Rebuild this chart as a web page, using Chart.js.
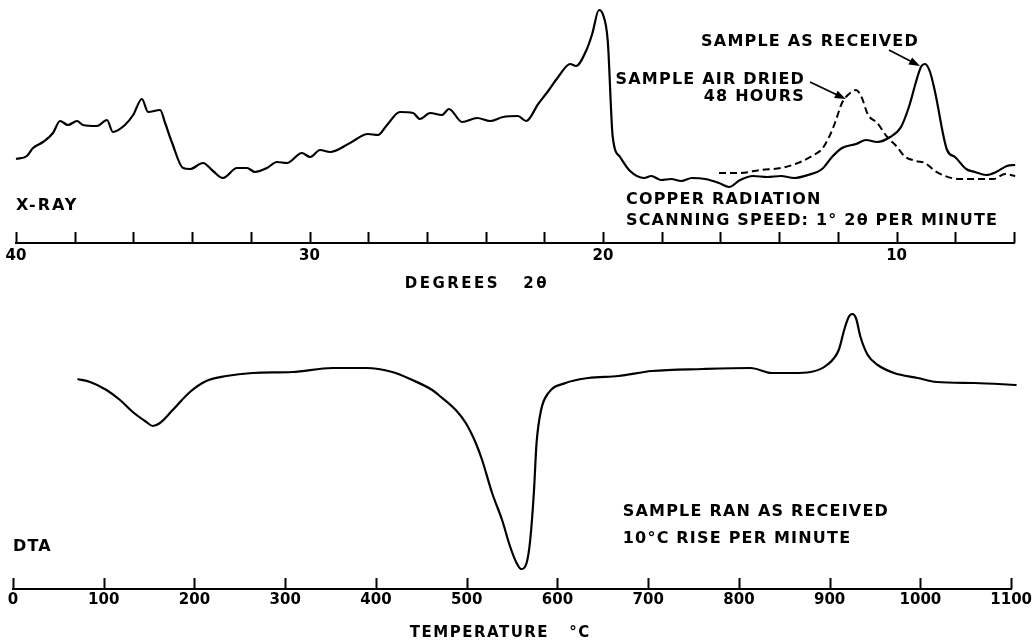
<!DOCTYPE html>
<html>
<head>
<meta charset="utf-8">
<title>X-ray and DTA</title>
<script src="https://cdn.jsdelivr.net/npm/chart.js@4.4.0/dist/chart.umd.min.js"></script>
<style>
  html, body { margin: 0; padding: 0; background: #fff; }
  #wrap { position: relative; width: 1034px; height: 644px; }
  canvas { position: absolute; left: 0; }
  #xray-chart { top: 0; }
  #dta-chart { top: 300px; }
</style>
</head>
<body>
<div id="wrap">
  <canvas id="xray-chart" width="1034" height="300"></canvas>
  <canvas id="dta-chart" width="1034" height="344"></canvas>
</div>
<script>
/* ----------------------------
   DATA
   ---------------------------- */

// X-ray trace, sample as received (degrees 2-theta, relative counts)
var receivedDeg = [40.0, 39.63, 39.42, 39.08, 38.74, 38.50, 38.23, 37.92, 37.72, 37.24,
  36.90, 36.70, 36.29, 36.01, 35.71, 35.50, 35.09, 34.92, 34.68, 34.31,
  34.07, 33.63, 33.29, 32.95, 32.47, 32.13, 31.86, 31.45, 31.11, 30.77,
  30.26, 29.98, 29.64, 29.30, 28.62, 28.01, 27.67, 27.36, 26.92, 26.47,
  26.24, 25.89, 25.49, 25.25, 24.80, 24.29, 23.85, 23.41, 22.90, 22.62,
  22.21, 21.87, 21.53, 21.12, 20.92, 20.58, 20.37, 20.14, 20.01, 19.84,
  19.67, 19.42, 19.08, 18.60, 18.36, 18.02, 17.68, 17.34, 16.97, 16.52,
  16.05, 15.71, 15.33, 14.89, 14.41, 13.94, 13.49, 13.02, 12.54, 12.20,
  11.86, 11.38, 11.04, 10.66, 10.22, 9.85, 9.57, 9.34, 9.17, 9.03,
  8.86, 8.69, 8.28, 8.01, 7.63, 7.33, 6.95, 6.61, 6.24, 5.96];
var receivedCounts = [84, 87, 95, 101, 110, 122, 118, 122, 118, 117,
  123, 111, 118, 128, 144, 131, 133, 120, 100, 75,
  74, 80, 72, 65, 75, 75, 71, 75, 81, 80,
  90, 86, 93, 91, 100, 109, 108, 118, 131, 130,
  124, 130, 128, 134, 121, 125, 122, 126, 127, 122,
  139, 152, 166, 179, 177, 192, 209, 233, 229, 202,
  106, 86, 72, 65, 67, 63, 64, 62, 65, 64,
  60, 56, 63, 67, 66, 67, 65, 68, 74, 86,
  95, 99, 103, 101, 106, 116, 137, 161, 176, 179,
  171, 151, 93, 86, 74, 71, 68, 71, 77, 78];

// X-ray trace, sample air dried 48 hours
var driedDeg = [16.05, 15.33, 14.65, 13.94, 13.36, 12.88, 12.54, 12.30, 12.10, 11.86,
  11.62, 11.38, 11.21, 10.97, 10.66, 10.32, 9.98, 9.74, 9.34, 9.03,
  8.69, 8.35, 7.87, 7.19, 6.71, 6.30, 5.96];
var driedCounts = [70, 70, 73, 75, 80, 87, 94, 106, 120, 140,
  149, 153, 147, 128, 120, 106, 96, 87, 82, 80,
  72, 67, 64, 64, 64, 69, 67];

// DTA trace (temperature in deg C, relative deflection)
var dtaTemp = [71, 85, 103, 118, 132, 147, 154, 162, 176, 195,
  213, 235, 264, 308, 352, 389, 418, 440, 462, 469,
  488, 499, 510, 517, 528, 539, 548, 555, 560, 566,
  570, 574, 577, 582, 590, 609, 634, 667, 704, 760,
  813, 836, 860, 879, 897, 910, 916, 921, 925, 929,
  934, 942, 953, 971, 997, 1018, 1060, 1106];
var dtaDelta = [210, 207, 199, 189, 177, 167, 163, 166, 179, 197,
  208, 213, 216, 217, 221, 221, 217, 209, 199, 194,
  179, 166, 146, 129, 96, 69, 42, 26, 20, 26,
  49, 96, 146, 179, 196, 206, 211, 213, 218, 220,
  221, 216, 216, 217, 224, 239, 259, 272, 275, 271,
  252, 234, 224, 216, 211, 207, 206, 204];

// axis tick labels
var xrayLabelled = [40, 30, 20, 10];
var dtaTickStep = 100;

/* ----------------------------
   HELPERS
   ---------------------------- */
function toPoints(xs, ys) {
  return xs.map(function (x, i) { return { x: x, y: ys[i] }; });
}

var FONT = '"DejaVu Sans", "Liberation Sans", sans-serif';

// Draws the upward tick marks, the lettering and the arrows
var paperMarks = {
  id: "paperMarks",
  afterDraw: function (chart, args, opts) {
    var ctx = chart.ctx;
    var xs = chart.scales.x;
    var ys = chart.scales.y;
    var axisY = chart.chartArea.bottom;

    ctx.save();
    ctx.strokeStyle = "#000";
    ctx.fillStyle = "#000";

    // tick marks point up into the plot, like the recorder paper
    ctx.lineWidth = 2;
    xs.ticks.forEach(function (t) {
      var px = Math.round(xs.getPixelForValue(t.value)) + 0.5;
      ctx.beginPath();
      ctx.moveTo(px, axisY);
      ctx.lineTo(px, axisY - opts.tickLength);
      ctx.stroke();
    });

    // lettering
    ctx.textBaseline = "middle";
    (opts.notes || []).forEach(function (n) {
      ctx.font = "bold " + (n.size || 16) + "px " + FONT;
      ctx.letterSpacing = (n.spacing || 1.2) + "px";
      ctx.textAlign = n.align || "left";
      var py = n.below ? axisY + n.below : ys.getPixelForValue(n.y);
      ctx.fillText(n.text, xs.getPixelForValue(n.x), py);
    });

    // arrows
    ctx.lineWidth = 1.8;
    (opts.arrows || []).forEach(function (a) {
      var x1 = xs.getPixelForValue(a.from[0]), y1 = ys.getPixelForValue(a.from[1]);
      var x2 = xs.getPixelForValue(a.to[0]),   y2 = ys.getPixelForValue(a.to[1]);
      var ang = Math.atan2(y2 - y1, x2 - x1);
      var len = 11, half = 4;
      ctx.beginPath();
      ctx.moveTo(x1, y1);
      ctx.lineTo(x2 - len * 0.8 * Math.cos(ang), y2 - len * 0.8 * Math.sin(ang));
      ctx.stroke();
      ctx.beginPath();
      ctx.moveTo(x2, y2);
      ctx.lineTo(x2 - len * Math.cos(ang) + half * Math.sin(ang), y2 - len * Math.sin(ang) - half * Math.cos(ang));
      ctx.lineTo(x2 - len * Math.cos(ang) - half * Math.sin(ang), y2 - len * Math.sin(ang) + half * Math.cos(ang));
      ctx.closePath();
      ctx.fill();
    });

    ctx.restore();
  }
};

Chart.defaults.color = "#000";
Chart.defaults.font.family = FONT;

function traceStyle(extra) {
  var base = {
    borderColor: "#000",
    borderWidth: 2.2,
    pointRadius: 0,
    fill: false,
    cubicInterpolationMode: "monotone",
    clip: false
  };
  for (var k in extra) { base[k] = extra[k]; }
  return base;
}

/* ----------------------------
   X-RAY CHART
   ---------------------------- */
function initXrayChart() {
  var canvas = document.getElementById("xray-chart");
  if (!canvas) { return; }

  new Chart(canvas.getContext("2d"), {
    type: "line",
    data: {
      datasets: [
        traceStyle({ label: "Sample as received", data: toPoints(receivedDeg, receivedCounts) }),
        traceStyle({ label: "Sample air dried 48 hours", data: toPoints(driedDeg, driedCounts), borderDash: [7, 4], borderWidth: 2 })
      ]
    },
    options: {
      responsive: false,
      animation: false,
      layout: { padding: { left: 16, right: 20, top: 0, bottom: 0 } },
      plugins: {
        legend: { display: false },
        tooltip: { enabled: false },
        paperMarks: {
          tickLength: 11,
          notes: [
            { text: "X-RAY", x: 40, y: 37, spacing: 2 },
            { text: "SAMPLE AS RECEIVED", x: 16.66, y: 201 },
            { text: "SAMPLE AIR DRIED", x: 13.12, y: 163, align: "right" },
            { text: "48 HOURS", x: 13.12, y: 146, align: "right" },
            { text: "COPPER RADIATION", x: 19.22, y: 43 },
            { text: "SCANNING SPEED: 1\u00B0 2\u03B8 PER MINUTE", x: 19.22, y: 22 },
            { text: "DEGREES   2\u03B8", x: 24.3, below: 41, align: "center", spacing: 2.5, size: 15 }
          ],
          arrows: [
            { from: [10.26, 193], to: [9.20, 177] },
            { from: [12.95, 161], to: [11.73, 144] }
          ]
        }
      },
      scales: {
        x: {
          type: "linear",
          reverse: true,
          min: 6,
          max: 40,
          afterFit: function (scale) { scale.height = 57; },
          grid: { display: false, drawTicks: false },
          border: { display: true, color: "#000", width: 2 },
          ticks: {
            stepSize: 2,
            autoSkip: false,
            maxRotation: 0,
            padding: 4,
            font: { size: 15, weight: "bold" },
            callback: function (v) { return xrayLabelled.indexOf(v) >= 0 ? String(v) : ""; }
          }
        },
        y: { display: false, min: 0, max: 243 }
      }
    },
    plugins: [paperMarks]
  });
}

/* ----------------------------
   DTA CHART
   ---------------------------- */
function initDtaChart() {
  var canvas = document.getElementById("dta-chart");
  if (!canvas) { return; }

  new Chart(canvas.getContext("2d"), {
    type: "line",
    data: {
      datasets: [
        traceStyle({ label: "DTA", data: toPoints(dtaTemp, dtaDelta) })
      ]
    },
    options: {
      responsive: false,
      animation: false,
      layout: { padding: { left: 13, right: 20, top: 0, bottom: 0 } },
      plugins: {
        legend: { display: false },
        tooltip: { enabled: false },
        paperMarks: {
          tickLength: 11,
          notes: [
            { text: "DTA", x: 0, y: 42 },
            { text: "SAMPLE RAN AS RECEIVED", x: 672, y: 77 },
            { text: "10\u00B0C RISE PER MINUTE", x: 672, y: 50 },
            { text: "TEMPERATURE   \u00B0C", x: 537, below: 44, align: "center", spacing: 1.5, size: 15 }
          ]
        }
      },
      scales: {
        x: {
          type: "linear",
          min: 0,
          max: 1100,
          afterFit: function (scale) { scale.height = 55; },
          grid: { display: false, drawTicks: false },
          border: { display: true, color: "#000", width: 2 },
          ticks: {
            stepSize: dtaTickStep,
            autoSkip: false,
            maxRotation: 0,
            padding: 2,
            font: { size: 15, weight: "bold" },
            callback: function (v) { return String(v); }
          }
        },
        y: { display: false, min: 0, max: 289 }
      }
    },
    plugins: [paperMarks]
  });
}

initXrayChart();
initDtaChart();
</script>
</body>
</html>
